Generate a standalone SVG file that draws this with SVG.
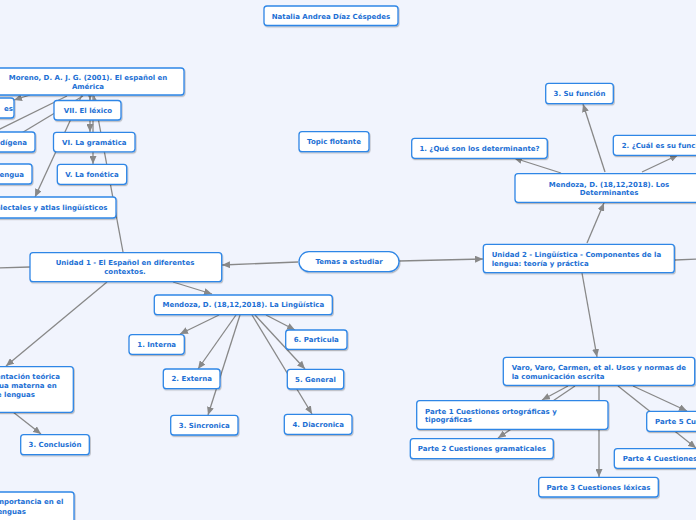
<svg xmlns="http://www.w3.org/2000/svg" width="696" height="520" viewBox="0 0 696 520">
<style>
.n rect{fill:#fff;stroke:#2f86e6;stroke-width:1.3;filter:url(#sh)}
.n text{font-family:"DejaVu Sans",Verdana,sans-serif;font-weight:bold;font-size:7px;fill:#1c6fd4}
.c{text-anchor:middle}
.e{text-anchor:end}
#connectors path{stroke:#888;stroke-width:1.3;fill:none}
#connectors path.a{marker-end:url(#ar)}
</style>
<defs>
<filter id="sh" x="-10%" y="-20%" width="120%" height="160%">
<feDropShadow dx="0.8" dy="1.2" stdDeviation="0.7" flood-color="#000" flood-opacity="0.25"/>
</filter>
<marker id="ar" markerUnits="userSpaceOnUse" markerWidth="8" markerHeight="7" refX="8" refY="3.5" orient="auto">
<path d="M0,0 L8,3.5 L0,7 z" fill="#888"/>
</marker>
</defs>
<rect x="0" y="0" width="696" height="520" fill="#f1f4fd"/>
<g id="connectors">
<path class="a" d="M298,262 L222,265"/>
<path class="a" d="M399,261 L483,259"/>
<path class="a" d="M587,243 L604,203"/>
<path class="a" d="M561,173 L514,158"/>
<path class="a" d="M605,172 L583,104"/>
<path class="a" d="M642,172 L678,155"/>
<path d="M675,260 L700,259"/>
<path class="a" d="M582,273 L597,357"/>
<path class="a" d="M568,386 L542,400"/>
<path class="a" d="M575,386 L498,438"/>
<path class="a" d="M599,386 L599,477"/>
<path class="a" d="M633,386 L687,411"/>
<path class="a" d="M618,386 L696,448"/>
<path class="a" d="M173,282 L212,294"/>
<path class="a" d="M219,315 L180,334"/>
<path class="a" d="M236,315 L198,369"/>
<path class="a" d="M240,315 L208,415"/>
<path class="a" d="M252,315 L312,414"/>
<path class="a" d="M255,315 L305,369"/>
<path class="a" d="M266,315 L295,330"/>
<path d="M30,267 L-5,268"/>
<path class="a" d="M107,282 L6,366"/>
<path class="a" d="M13,412 L41,434"/>
<path class="a" d="M123,252 L94,96"/>
<path class="a" d="M90,92 L90,100"/>
<path class="a" d="M90,95 L90,132"/>
<path class="a" d="M93,95 L93,164"/>
<path class="a" d="M82,95 L35,197"/>
<path class="a" d="M30,95 L14,100"/>
<path d="M67,96 L-10,134"/>
<path d="M83,96 L10,140"/>
</g>
<g id="n-natalia" class="n"><rect x="264" y="6" width="134" height="19.5" rx="3"/><text class="c" x="331" y="18.5">Natalia Andrea Díaz Céspedes</text></g>
<g id="n-moreno" class="n"><rect x="-8" y="68" width="192" height="27" rx="3"/><text class="c" x="88" y="79.5">Moreno, D. A. J. G. (2001). El español en</text><text class="c" x="88" y="88.5">América</text></g>
<g id="n-es" class="n"><rect x="-40" y="98" width="54" height="20" rx="3"/><text class="e" x="13" y="110.5">es</text></g>
<g id="n-digena" class="n"><rect x="-40" y="132" width="75" height="20" rx="3"/><text class="e" x="27" y="145">dígena</text></g>
<g id="n-engua" class="n"><rect x="-40" y="164" width="72" height="20" rx="3"/><text class="e" x="24" y="177">engua</text></g>
<g id="n-dialectales" class="n"><rect x="-40" y="197" width="156" height="21" rx="3"/><text class="e" x="107.5" y="210">ialectales y atlas lingüísticos</text></g>
<g id="n-lexico" class="n"><rect x="54" y="100.5" width="67" height="19.5" rx="3"/><text class="c" x="88" y="113">VII. El léxico</text></g>
<g id="n-gramatica" class="n"><rect x="53.5" y="132.3" width="81.5" height="19.5" rx="3"/><text class="c" x="94.3" y="145">VI. La gramática</text></g>
<g id="n-fonetica" class="n"><rect x="57.3" y="164.3" width="69.4" height="20" rx="3"/><text class="c" x="92" y="177">V. La fonética</text></g>
<g id="n-topic" class="n"><rect x="299" y="131.7" width="70" height="20" rx="3"/><text class="c" x="334" y="144">Topic flotante</text></g>
<g id="n-unidad1" class="n"><rect x="30" y="252.7" width="191.7" height="29" rx="3"/><text class="c" x="125" y="265">Unidad 1 - El Español en diferentes</text><text class="c" x="125" y="274">contextos.</text></g>
<g id="n-temas" class="n"><rect x="299" y="251.7" width="100" height="20" rx="10"/><text class="c" x="349" y="264">Temas a estudiar</text></g>
<g id="n-unidad2" class="n"><rect x="483.3" y="244.3" width="191" height="28.4" rx="3"/><text x="491.7" y="257">Unidad 2 - Lingüística - Componentes de la</text><text x="491.7" y="265.5">lengua: teoría y práctica</text></g>
<g id="n-linguistica" class="n"><rect x="154.3" y="295" width="178" height="19.7" rx="3"/><text class="c" x="243.3" y="307.3">Mendoza, D. (18,12,2018). La Lingüística</text></g>
<g id="n-interna" class="n"><rect x="129" y="334.7" width="55.3" height="19.6" rx="3"/><text class="c" x="156.7" y="347">1. Interna</text></g>
<g id="n-externa" class="n"><rect x="163.3" y="369" width="56.7" height="19.7" rx="3"/><text class="c" x="191.7" y="381.3">2. Externa</text></g>
<g id="n-sincronica" class="n"><rect x="170.7" y="415.3" width="67.3" height="19.7" rx="3"/><text class="c" x="204.3" y="427.7">3. Sincronica</text></g>
<g id="n-particula" class="n"><rect x="285.7" y="330" width="61.3" height="19.3" rx="3"/><text class="c" x="316.3" y="342.2">6. Particula</text></g>
<g id="n-general" class="n"><rect x="287.3" y="369.3" width="56.4" height="19.7" rx="3"/><text class="c" x="315.5" y="381.7">5. General</text></g>
<g id="n-diacronica" class="n"><rect x="284.3" y="414.3" width="67.7" height="20" rx="3"/><text class="c" x="318.2" y="426.8">4. Diacronica</text></g>
<g id="n-fundamentacion" class="n"><rect x="-40" y="366.7" width="113.3" height="45.6" rx="3"/><text class="e" x="60" y="379">entación teórica</text><text class="e" x="56.7" y="388">ua materna en</text><text class="e" x="35" y="396.5">e lenguas</text></g>
<g id="n-conclusion" class="n"><rect x="20.7" y="434.7" width="68.6" height="20" rx="3"/><text class="c" x="55" y="447.2">3. Conclusión</text></g>
<g id="n-importancia" class="n"><rect x="-40" y="492" width="114" height="40" rx="3"/><text class="e" x="63.3" y="504">importancia en el</text><text class="e" x="26" y="513.5">enguas</text></g>
<g id="n-que" class="n"><rect x="411.7" y="138.3" width="135.6" height="20" rx="3"/><text class="c" x="479.5" y="150.8">1. ¿Qué son los determinante?</text></g>
<g id="n-su" class="n"><rect x="545.7" y="83.3" width="67.6" height="20.4" rx="3"/><text class="c" x="579.5" y="96">3. Su función</text></g>
<g id="n-cual" class="n"><rect x="613.3" y="135.3" width="100" height="20" rx="3"/><text x="621.7" y="147.8">2. ¿Cuál es su función?</text></g>
<g id="n-determinantes" class="n"><rect x="515" y="173.7" width="190" height="28.6" rx="3"/><text class="c" x="609" y="186.5">Mendoza, D. (18,12,2018). Los</text><text class="c" x="609" y="195.3">Determinantes</text></g>
<g id="n-varo" class="n"><rect x="503.3" y="357.3" width="191.4" height="28" rx="3"/><text x="511.7" y="370">Varo, Varo, Carmen, et al. Usos y normas de</text><text x="511.7" y="378.5">la comunicación escrita</text></g>
<g id="n-parte1" class="n"><rect x="416.7" y="400.7" width="191.3" height="28.6" rx="3"/><text x="425" y="413.5">Parte 1 Cuestiones ortográficas y</text><text x="425" y="422">tipográficas</text></g>
<g id="n-parte2" class="n"><rect x="410.3" y="438.7" width="143" height="20" rx="3"/><text class="c" x="481.8" y="451.2">Parte 2 Cuestiones gramaticales</text></g>
<g id="n-parte3" class="n"><rect x="538.7" y="477.3" width="119.6" height="19.7" rx="3"/><text class="c" x="598.5" y="489.8">Parte 3 Cuestiones léxicas</text></g>
<g id="n-parte5" class="n"><rect x="646.7" y="411.3" width="80" height="20" rx="3"/><text x="655" y="423.8">Parte 5 Cuestiones</text></g>
<g id="n-parte4" class="n"><rect x="614.3" y="448.7" width="110" height="19.6" rx="3"/><text x="622.7" y="461.2">Parte 4 Cuestiones</text></g>
</svg>
